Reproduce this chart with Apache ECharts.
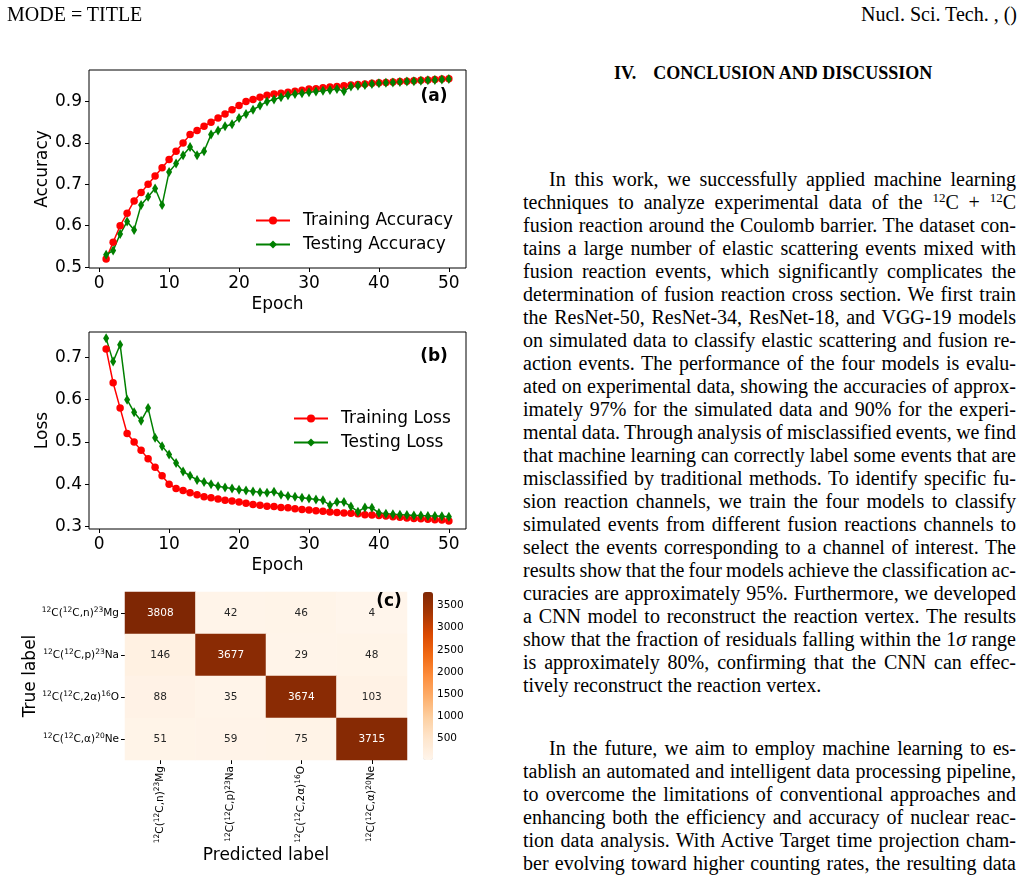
<!DOCTYPE html>
<html><head><meta charset="utf-8">
<script src="https://cdn.jsdelivr.net/npm/echarts@6/dist/echarts.min.js"></script>
<style>
html,body{margin:0;padding:0;background:#fff;width:1023px;height:883px;overflow:hidden;}
#chart{position:absolute;left:0;top:0;width:500px;height:883px;}
.serif{font-family:"Liberation Serif","Times New Roman",serif;color:#000;}
#hdrL{position:absolute;left:7px;top:2px;font-size:20px;line-height:24px;}
#hdrR{position:absolute;right:6px;top:2px;font-size:20px;line-height:24px;}
#heading{position:absolute;left:614px;top:61px;font-weight:bold;font-size:18px;line-height:24px;white-space:nowrap;}
#heading .gap{display:inline-block;width:17px;}
.para{position:absolute;left:523px;width:493px;font-size:20px;}
.ln{height:23px;line-height:23px;white-space:nowrap;}
.ln.ind{padding-left:26px;}
sup{font-size:13px;line-height:0;vertical-align:7px;}
</style></head>
<body>
<div id="chart"></div>
<div id="hdrL" class="serif">MODE = TITLE</div>
<div id="hdrR" class="serif">Nucl. Sci. Tech. , ()</div>
<div id="heading" class="serif">IV.<span class="gap"></span>CONCLUSION AND DISCUSSION</div>
<div class="para serif" style="top:168px">
<div class="ln ind j"><span>In this work, we successfully applied machine learning</span></div>
<div class="ln j"><span>techniques to analyze experimental data of the <sup>12</sup>C + <sup>12</sup>C</span></div>
<div class="ln j"><span>fusion reaction around the Coulomb barrier. The dataset con-</span></div>
<div class="ln j"><span>tains a large number of elastic scattering events mixed with</span></div>
<div class="ln j"><span>fusion reaction events, which significantly complicates the</span></div>
<div class="ln j"><span>determination of fusion reaction cross section. We first train</span></div>
<div class="ln j"><span>the ResNet-50, ResNet-34, ResNet-18, and VGG-19 models</span></div>
<div class="ln j"><span>on simulated data to classify elastic scattering and fusion re-</span></div>
<div class="ln j"><span>action events. The performance of the four models is evalu-</span></div>
<div class="ln j"><span>ated on experimental data, showing the accuracies of approx-</span></div>
<div class="ln j"><span>imately 97% for the simulated data and 90% for the experi-</span></div>
<div class="ln j"><span>mental data. Through analysis of misclassified events, we find</span></div>
<div class="ln j"><span>that machine learning can correctly label some events that are</span></div>
<div class="ln j"><span>misclassified by traditional methods. To identify specific fu-</span></div>
<div class="ln j"><span>sion reaction channels, we train the four models to classify</span></div>
<div class="ln j"><span>simulated events from different fusion reactions channels to</span></div>
<div class="ln j"><span>select the events corresponding to a channel of interest. The</span></div>
<div class="ln j"><span>results show that the four models achieve the classification ac-</span></div>
<div class="ln j"><span>curacies are approximately 95%. Furthermore, we developed</span></div>
<div class="ln j"><span>a CNN model to reconstruct the reaction vertex. The results</span></div>
<div class="ln j"><span>show that the fraction of residuals falling within the 1<i>σ</i> range</span></div>
<div class="ln j"><span>is approximately 80%, confirming that the CNN can effec-</span></div>
<div class="ln"><span>tively reconstruct the reaction vertex.</span></div>
</div>
<div class="para serif" style="top:737px">
<div class="ln ind j"><span>In the future, we aim to employ machine learning to es-</span></div>
<div class="ln j"><span>tablish an automated and intelligent data processing pipeline,</span></div>
<div class="ln j"><span>to overcome the limitations of conventional approaches and</span></div>
<div class="ln j"><span>enhancing both the efficiency and accuracy of nuclear reac-</span></div>
<div class="ln j"><span>tion data analysis. With Active Target time projection cham-</span></div>
<div class="ln j"><span>ber evolving toward higher counting rates, the resulting data</span></div>
</div>
<script>
// ---------- data ----------
const epochs = [1,2,3,4,5,6,7,8,9,10,11,12,13,14,15,16,17,18,19,20,21,22,23,24,25,26,27,28,29,30,31,32,33,34,35,36,37,38,39,40,41,42,43,44,45,46,47,48,49,50];
const trainAcc = [0.52,0.56,0.60,0.63,0.66,0.68,0.70,0.72,0.74,0.76,0.78,0.80,0.82,0.83,0.84,0.85,0.86,0.87,0.88,0.89,0.90,0.905,0.91,0.915,0.918,0.92,0.922,0.925,0.927,0.93,0.931,0.933,0.935,0.936,0.938,0.94,0.941,0.942,0.944,0.945,0.946,0.947,0.948,0.949,0.95,0.951,0.952,0.953,0.954,0.955];
const testAcc = [0.53,0.54,0.58,0.61,0.59,0.65,0.67,0.69,0.65,0.73,0.75,0.77,0.79,0.77,0.78,0.82,0.83,0.84,0.845,0.86,0.87,0.88,0.89,0.90,0.905,0.91,0.915,0.918,0.92,0.922,0.924,0.926,0.928,0.93,0.925,0.936,0.938,0.94,0.942,0.944,0.945,0.946,0.947,0.948,0.949,0.95,0.951,0.952,0.953,0.954];
const trainLoss = [0.72,0.64,0.58,0.52,0.50,0.48,0.46,0.44,0.42,0.40,0.39,0.385,0.38,0.375,0.37,0.368,0.365,0.362,0.36,0.358,0.355,0.352,0.35,0.348,0.347,0.345,0.344,0.342,0.34,0.339,0.337,0.336,0.334,0.333,0.332,0.331,0.33,0.328,0.327,0.326,0.325,0.323,0.322,0.32,0.319,0.318,0.317,0.316,0.315,0.313];
const testLoss = [0.745,0.69,0.73,0.60,0.57,0.55,0.58,0.51,0.49,0.47,0.45,0.43,0.42,0.41,0.405,0.40,0.395,0.392,0.39,0.387,0.385,0.383,0.381,0.38,0.382,0.375,0.372,0.37,0.368,0.366,0.364,0.362,0.35,0.358,0.358,0.347,0.335,0.345,0.344,0.332,0.33,0.329,0.328,0.327,0.326,0.326,0.325,0.325,0.324,0.323];
const epochTicks = [0,10,20,30,40,50];
const accTicks = [0.5,0.6,0.7,0.8,0.9];
const lossTicks = [0.3,0.4,0.5,0.6,0.7];
const classLabels = ['{s|12}C({s|12}C,n){s|23}Mg','{s|12}C({s|12}C,p){s|23}Na','{s|12}C({s|12}C,2\u03b1){s|16}O','{s|12}C({s|12}C,\u03b1){s|20}Ne'];
const confRow1 = [3808,42,46,4];
const confRow2 = [146,3677,29,48];
const confRow3 = [88,35,3674,103];
const confRow4 = [51,59,75,3715];
const colorbarTicks = [500,1000,1500,2000,2500,3000,3500];
const oranges = ['#fff5eb','#fee6ce','#fdd0a2','#fdae6b','#fd8d3c','#f16913','#d94801','#a63603','#7f2704'];

// ---------- justify body text lines ----------
document.querySelectorAll('.ln.j').forEach((el) => {
  const span = el.querySelector('span');
  const avail = el.clientWidth - parseFloat(getComputedStyle(el).paddingLeft);
  const w = span.getBoundingClientRect().width;
  const n = (span.textContent.match(/ /g) || []).length;
  if (n > 0) el.style.wordSpacing = ((avail - w) / n) + 'px';
});

// ---------- build ----------
const FONT = 'DejaVu Sans';
const FS = 17;
const conf = [confRow1, confRow2, confRow3, confRow4];
const heatData = [];
conf.forEach((row, i) => row.forEach((v, j) => {
  heatData.push({ value: [j, i, v], label: { color: v > 2000 ? '#ffffff' : '#262626' } });
}));
const pairs = (ys) => epochs.map((e, i) => [e, ys[i]]);
const richLbl = { s: { fontSize: 7.5, fontFamily: FONT, color: '#000', verticalAlign: 'top', lineHeight: 14 } };

function lineX(gi) {
  return { gridIndex: gi, type: 'value', min: -1.45, max: 52.45,
    axisLine: { show: false, onZero: false }, splitLine: { show: false },
    axisTick: { show: true, length: 4, lineStyle: { color: '#000', width: 1 }, customValues: epochTicks },
    axisLabel: { customValues: epochTicks, color: '#000', fontSize: FS, fontFamily: FONT, margin: 7 },
    name: 'Epoch', nameLocation: 'middle', nameGap: 28, nameMoveOverlap: false,
    nameTextStyle: { color: '#000', fontSize: FS, fontFamily: FONT } };
}
function lineY(gi, min, max, ticks, name) {
  return { gridIndex: gi, type: 'value', min: min, max: max,
    axisLine: { show: false, onZero: false }, splitLine: { show: false },
    axisTick: { show: true, length: 4, lineStyle: { color: '#000', width: 1 }, customValues: ticks },
    axisLabel: { customValues: ticks, color: '#000', fontSize: FS, fontFamily: FONT, margin: 7,
      formatter: (v) => v.toFixed(1) },
    name: name, nameLocation: 'middle', nameGap: 38, nameRotate: 90, nameMoveOverlap: false,
    nameTextStyle: { color: '#000', fontSize: FS, fontFamily: FONT } };
}
function lineSeries(name, gi, ys, isTrain) {
  const c = isTrain ? '#ff0000' : '#008000';
  return { type: 'line', name: name, xAxisIndex: gi, yAxisIndex: gi, data: pairs(ys),
    symbol: isTrain ? 'circle' : 'diamond', symbolSize: isTrain ? 7.5 : [6, 10],
    showAllSymbol: true, lineStyle: { color: c, width: 1.5 }, itemStyle: { color: c },
    emphasis: { disabled: true }, animation: false };
}
function legendAt(left, top, names) {
  return { orient: 'vertical', left: left, top: top, data: names, itemWidth: 34, itemHeight: 10,
    itemGap: 7, padding: 0, selectedMode: false,
    textStyle: { color: '#000', fontSize: FS, fontFamily: FONT, padding: [0, 0, 0, 8] } };
}

const option = {
  animation: false,
  backgroundColor: '#fff',
  grid: [
    { left: 89, top: 70, width: 377, height: 198, show: true, borderColor: '#000', borderWidth: 1 },
    { left: 89, top: 332, width: 377, height: 197, show: true, borderColor: '#000', borderWidth: 1 },
    { left: 125, top: 592, width: 282, height: 168 },
    { left: 423, top: 592, width: 10, height: 168 }
  ],
  xAxis: [
    lineX(0), lineX(1),
    { gridIndex: 2, type: 'category', data: classLabels, axisLine: { show: false },
      axisTick: { show: true, alignWithLabel: true, length: 4, lineStyle: { color: '#000' } },
      axisLabel: { rotate: 90, fontSize: 10.5, fontFamily: FONT, color: '#000', margin: 6, lineHeight: 14, rich: richLbl },
      name: 'Predicted label', nameLocation: 'middle', nameGap: 87, nameMoveOverlap: false,
      nameTextStyle: { color: '#000', fontSize: FS, fontFamily: FONT } },
    { gridIndex: 3, type: 'value', show: false, min: 0, max: 1 }
  ],
  yAxis: [
    lineY(0, 0.498, 0.976, accTicks, 'Accuracy'),
    lineY(1, 0.294, 0.76, lossTicks, 'Loss'),
    { gridIndex: 2, type: 'category', data: classLabels, inverse: true, axisLine: { show: false },
      axisTick: { show: true, alignWithLabel: true, length: 4, lineStyle: { color: '#000' } },
      axisLabel: { fontSize: 10.5, fontFamily: FONT, color: '#000', margin: 6, lineHeight: 14, rich: richLbl },
      name: 'True label', nameLocation: 'middle', nameGap: 86, nameRotate: 90, nameMoveOverlap: false,
      nameTextStyle: { color: '#000', fontSize: FS, fontFamily: FONT } },
    { gridIndex: 3, type: 'value', position: 'right', min: 4, max: 3808,
      axisLine: { show: false }, splitLine: { show: false },
      axisTick: { show: true, length: 3.5, customValues: colorbarTicks, lineStyle: { color: '#000' } },
      axisLabel: { customValues: colorbarTicks, fontSize: 10.5, fontFamily: FONT, color: '#000', margin: 4,
        formatter: (v) => String(v) } }
  ],
  visualMap: {
    type: 'continuous', min: 4, max: 3808, seriesIndex: 4, orient: 'vertical',
    left: 423, top: 592, itemWidth: 10, itemHeight: 168, padding: 0, text: null,
    calculable: false, hoverLink: false, showLabel: false, inRange: { color: oranges }
  },
  legend: [
    legendAt(255, 212, ['Training Accuracy', 'Testing Accuracy']),
    legendAt(293, 410, ['Training Loss', 'Testing Loss'])
  ],
  graphic: [
    { type: 'text', x: 434, y: 97, style: { text: '(a)', font: 'bold 17px "DejaVu Sans"', fill: '#000', align: 'center', verticalAlign: 'middle' } },
    { type: 'text', x: 434, y: 357, style: { text: '(b)', font: 'bold 17px "DejaVu Sans"', fill: '#000', align: 'center', verticalAlign: 'middle' } },
    { type: 'text', x: 389, y: 602, z: 100, style: { text: '(c)', font: 'bold 17px "DejaVu Sans"', fill: '#000', align: 'center', verticalAlign: 'middle' } }
  ],
  series: [
    lineSeries('Training Accuracy', 0, trainAcc, true),
    lineSeries('Testing Accuracy', 0, testAcc, false),
    lineSeries('Training Loss', 1, trainLoss, true),
    lineSeries('Testing Loss', 1, testLoss, false),
    { type: 'heatmap', xAxisIndex: 2, yAxisIndex: 2, data: heatData,
      label: { show: true, fontSize: 10.5, fontFamily: FONT, formatter: (p) => String(p.value[2]) },
      emphasis: { disabled: true }, itemStyle: { borderWidth: 0 } }
  ]
};
const chart = echarts.init(document.getElementById('chart'), null, { renderer: 'canvas' });
chart.setOption(option);
</script>
</body></html>
